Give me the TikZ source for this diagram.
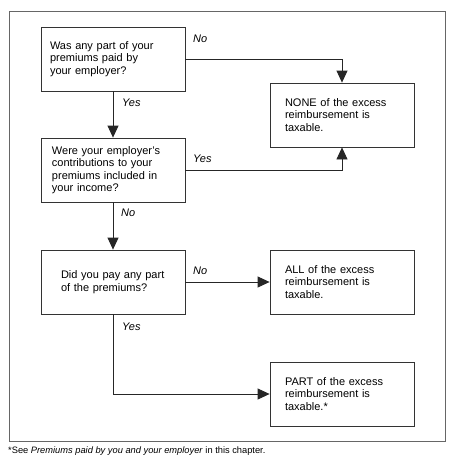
\documentclass[tikz,border=0pt]{standalone}
\usepackage{fontspec}
\setmainfont{Liberation Sans}
\usetikzlibrary{arrows.meta}

\begin{document}
\begin{tikzpicture}[x=1pt,y=-1pt,
  every node/.style={font=\fontsize{11}{12.5}\selectfont},
  box/.style={draw=black!80,line width=0.8pt,minimum height=64pt,align=left,inner ysep=0pt},
  arr/.style={black!85,line width=0.8pt,-{Triangle[length=12pt,width=11pt]}},
  lbl/.style={anchor=west,inner sep=0pt,font=\fontsize{11}{12.5}\selectfont\itshape}]
\useasboundingbox (0,0) rectangle (453,464);
\draw[black!60,line width=0.9pt] (9,11) rectangle (445,441);
%------------- left column: questions
\node[box,inner xsep=9pt,text width=126pt] (paid) at (113,59)
  {Was any part of your\\premiums paid by\\your employer?};
\node[box,inner xsep=11pt,text width=122pt] (incl) at (113,170)
  {Were your employer's\\contributions to your\\premiums included in\\your income?};
\node[box,inner xsep=20pt,text width=104pt] (you) at (113,282)
  {Did you pay any part\\of the premiums?};
%------------- right column: answers
\node[box,inner xsep=15pt,text width=114pt] (none) at (342,115)
  {NONE of the excess\\reimbursement is\\taxable.};
\node[box,inner xsep=15pt,text width=114pt] (all) at (342,282)
  {ALL of the excess\\reimbursement is\\taxable.};
\node[box,inner xsep=15pt,text width=114pt] (part) at (342,394)
  {PART of the excess\\reimbursement is\\taxable.*};
%------------- connectors
\draw[arr] (paid.east) -| (none.north);
\draw[arr] (paid.south) -- (incl.north);
\draw[arr] (incl.east) -| (none.south);
\draw[arr] (incl.south) -- (you.north);
\draw[arr] (you.east) -- (all.west);
\draw[arr] (you.south) |- (part.west);
%------------- labels
\node[lbl] (no1) at (193,39) {No};
\node[lbl] (yes1) at (122,103) {Yes};
\node[lbl] (yes2) at (193,159) {Yes};
\node[lbl] (no2) at (121,213) {No};
\node[lbl] (no3) at (193,271) {No};
\node[lbl] (yes3) at (122,327) {Yes};
%------------- footnote
\node[anchor=west,inner sep=0pt,font=\fontsize{9.3}{11}\selectfont] (note) at (8,451)
  {*See \textit{Premiums paid by you and your employer} in this chapter.};
\end{tikzpicture}
\end{document}
